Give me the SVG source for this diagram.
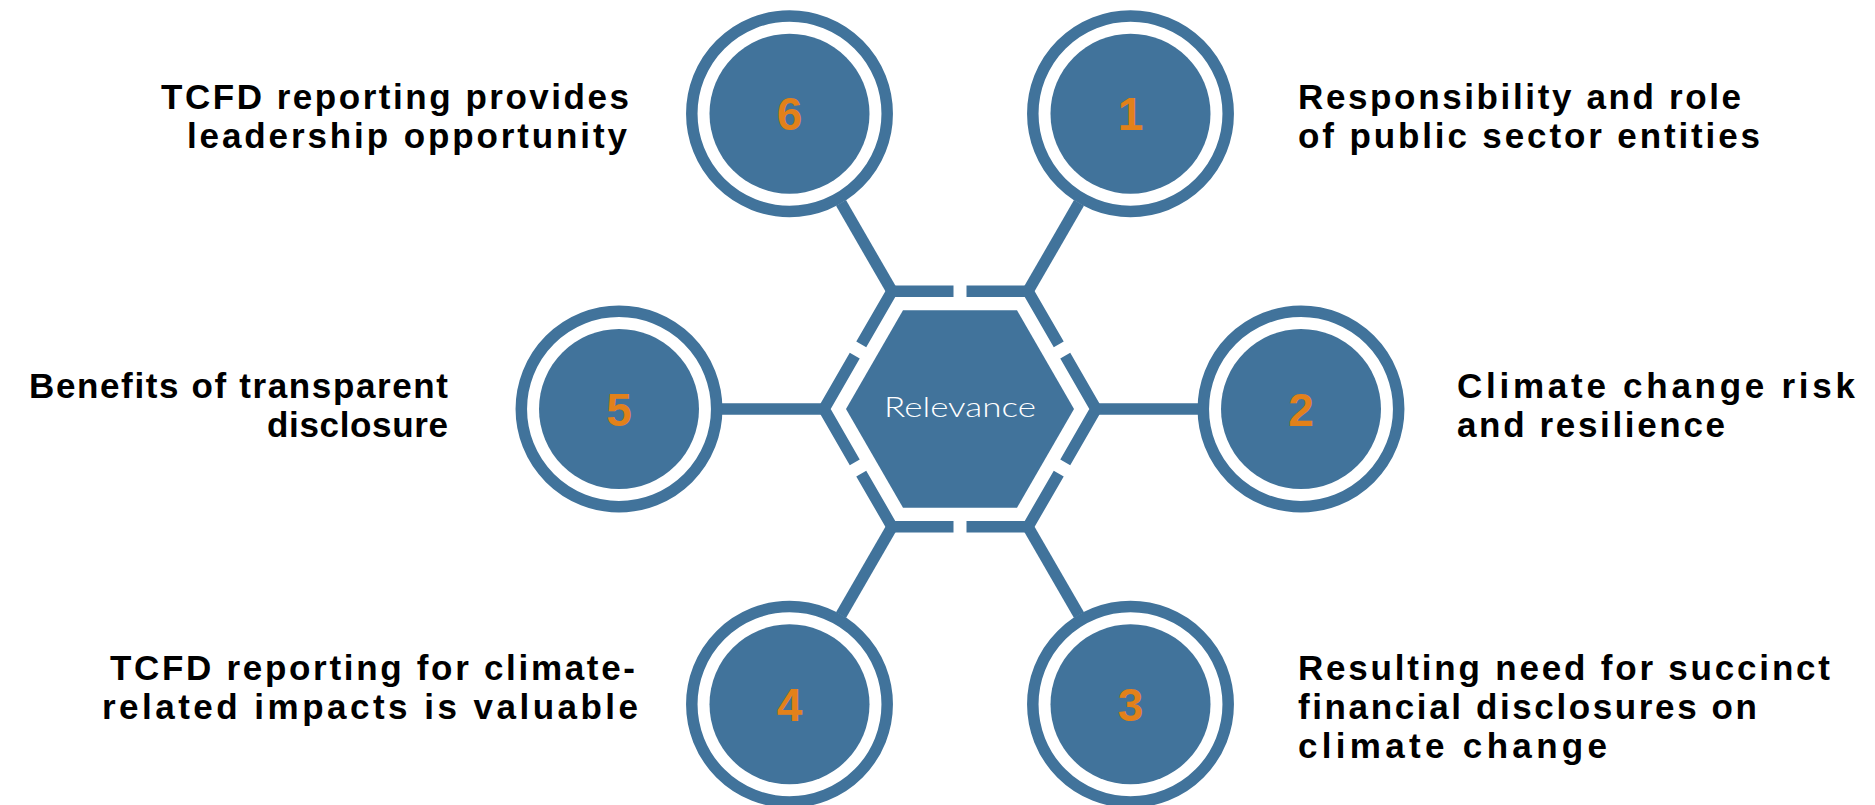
<svg xmlns="http://www.w3.org/2000/svg" width="1875" height="805" viewBox="0 0 1875 805">
<style>
  .ring { fill: none; stroke: #41739B; stroke-width: 11.5; }
  .disc { fill: #41739B; }
  .num { font-family: "Liberation Sans", Arial, sans-serif; font-weight: bold; font-size: 46px; fill: #E2811A; text-anchor: middle; }
  .lbl { font-family: "Liberation Sans", Arial, sans-serif; font-weight: bold; font-size: 35px; fill: #000000; }
  .frame { fill: none; stroke: #41739B; stroke-width: 11.5; stroke-linejoin: miter; }
  .conn { fill: none; stroke: #41739B; stroke-width: 11.5; }
  .center-txt { font-family: Lato, "Liberation Sans", sans-serif; font-weight: 300; font-size: 28px; fill: #FFFFFF; }
</style>
<rect width="1875" height="805" fill="#FFFFFF"/>

<g id="connectors">
  <line class="conn" x1="1096" y1="409" x2="1198" y2="409"/>
  <line class="conn" x1="1028" y1="526.78" x2="1079" y2="615.1"/>
  <line class="conn" x1="892" y1="526.78" x2="841" y2="615.1"/>
  <line class="conn" x1="824" y1="409" x2="722" y2="409"/>
  <line class="conn" x1="892" y1="291.22" x2="841" y2="202.9"/>
  <line class="conn" x1="1028" y1="291.22" x2="1079" y2="202.9"/>
</g>

<g id="center">
  <g id="frame">
    <polyline class="frame" points="1065.25,355.74 1096,409 1065.25,462.26"/>
    <polyline class="frame" points="1058.75,473.52 1028,526.78 966.5,526.78"/>
    <polyline class="frame" points="953.5,526.78 892,526.78 861.25,473.52"/>
    <polyline class="frame" points="854.75,462.26 824,409 854.75,355.74"/>
    <polyline class="frame" points="861.25,344.48 892,291.22 953.5,291.22"/>
    <polyline class="frame" points="966.5,291.22 1028,291.22 1058.75,344.48"/>
  </g>
  <polygon class="disc" points="1074,409 1017,507.73 903,507.73 846,409 903,310.27 1017,310.27"/>
  <text class="center-txt" x="884" y="417" textLength="152" lengthAdjust="spacingAndGlyphs">Relevance</text>
</g>

<g id="node1">
  <circle class="ring" cx="1130.5" cy="113.7" r="97.7"/>
  <circle class="disc" cx="1130.5" cy="113.7" r="80"/>
  <text class="num" x="1130.5" y="130.2">1</text>
  <text class="lbl" x="1298" y="109" textLength="443" lengthAdjust="spacing">Responsibility and role</text>
  <text class="lbl" x="1298" y="148" textLength="462" lengthAdjust="spacing">of public sector entities</text>
</g>

<g id="node2">
  <circle class="ring" cx="1301" cy="409" r="97.7"/>
  <circle class="disc" cx="1301" cy="409" r="80"/>
  <text class="num" x="1301" y="425.5">2</text>
  <text class="lbl" x="1457" y="398" textLength="398" lengthAdjust="spacing">Climate change risk</text>
  <text class="lbl" x="1457" y="437" textLength="268" lengthAdjust="spacing">and resilience</text>
</g>

<g id="node3">
  <circle class="ring" cx="1130.5" cy="704.3" r="97.7"/>
  <circle class="disc" cx="1130.5" cy="704.3" r="80"/>
  <text class="num" x="1130.5" y="720.8">3</text>
  <text class="lbl" x="1298" y="680" textLength="532" lengthAdjust="spacing">Resulting need for succinct</text>
  <text class="lbl" x="1298" y="719" textLength="459" lengthAdjust="spacing">financial disclosures on</text>
  <text class="lbl" x="1298" y="758" textLength="309" lengthAdjust="spacing">climate change</text>
</g>

<g id="node4">
  <circle class="ring" cx="789.5" cy="704.3" r="97.7"/>
  <circle class="disc" cx="789.5" cy="704.3" r="80"/>
  <text class="num" x="789.5" y="720.8">4</text>
  <text class="lbl" x="110" y="680" textLength="525" lengthAdjust="spacing">TCFD reporting for climate-</text>
  <text class="lbl" x="102" y="719" textLength="536" lengthAdjust="spacing">related impacts is valuable</text>
</g>

<g id="node5">
  <circle class="ring" cx="619" cy="409" r="97.7"/>
  <circle class="disc" cx="619" cy="409" r="80"/>
  <text class="num" x="619" y="425.5">5</text>
  <text class="lbl" x="29" y="398" textLength="419" lengthAdjust="spacing">Benefits of transparent</text>
  <text class="lbl" x="267" y="437" textLength="181" lengthAdjust="spacing">disclosure</text>
</g>

<g id="node6">
  <circle class="ring" cx="789.5" cy="113.7" r="97.7"/>
  <circle class="disc" cx="789.5" cy="113.7" r="80"/>
  <text class="num" x="789.5" y="130.2">6</text>
  <text class="lbl" x="161" y="109" textLength="468" lengthAdjust="spacing">TCFD reporting provides</text>
  <text class="lbl" x="187" y="148" textLength="440" lengthAdjust="spacing">leadership opportunity</text>
</g>
</svg>
